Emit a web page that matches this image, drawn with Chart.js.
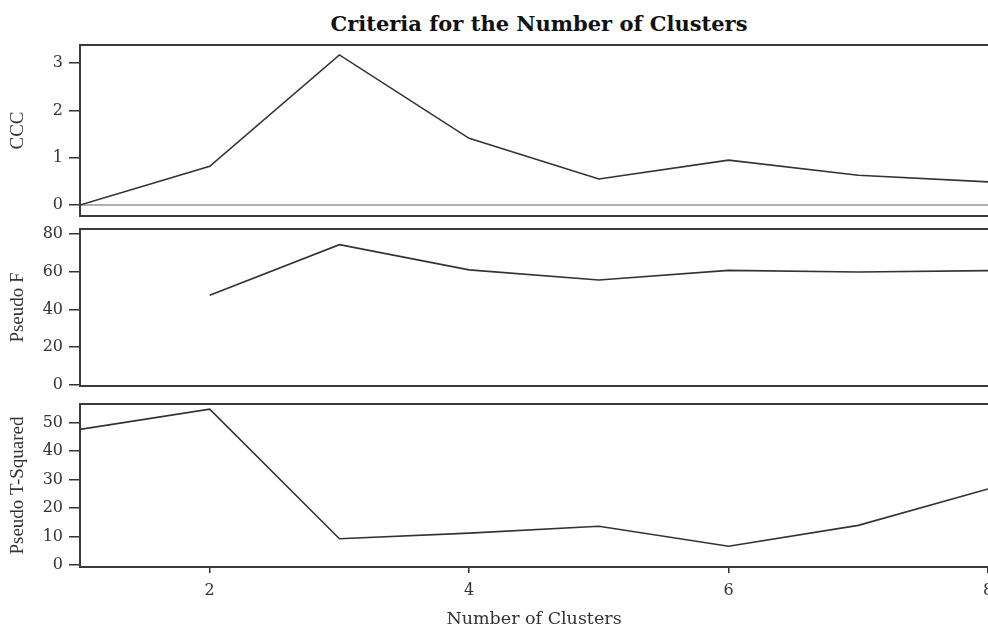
<!DOCTYPE html>
<html>
<head>
<meta charset="utf-8">
<script src="https://cdn.jsdelivr.net/npm/chart.js@4/dist/chart.umd.min.js"></script>
<style>
  body { margin: 0; background: #fff; overflow: hidden; width: 988px; height: 626px; position: relative; }
  .panel { position: absolute; left: 0; width: 988px; }
  #title { position: absolute; top: 10px; left: 80px; width: 918px; text-align: center;
           font: bold 21px "DejaVu Serif", serif; color: #111; line-height: 28px; }
</style>
</head>
<body>
<div id="title">Criteria for the Number of Clusters</div>
<div class="panel" style="top:35px;height:191px"><canvas id="ccc"></canvas></div>
<div class="panel" style="top:219px;height:177px"><canvas id="pf"></canvas></div>
<div class="panel" style="top:394px;height:236px"><canvas id="pt"></canvas></div>

<script>
// data
const clusters = [1, 2, 3, 4, 5, 6, 7, 8];
const cccValues = [0, 0.82, 3.17, 1.41, 0.55, 0.95, 0.63, 0.49];
const pseudoF = [null, 47.5, 74.2, 60.9, 55.5, 60.6, 59.8, 60.5];
const pseudoT2 = [47.6, 54.7, 9.2, 11.2, 13.6, 6.6, 13.9, 26.7];

const xTicks = [2, 4, 6, 8];
const cccTicks = [0, 1, 2, 3];
const fTicks = [0, 20, 40, 60, 80];
const tTicks = [0, 10, 20, 30, 40, 50];

Chart.defaults.font.family = '"DejaVu Serif", serif';
Chart.defaults.color = '#333';

// box lines round the plot area (top, left, bottom), right side runs off the page
const framePlugin = {
  id: 'frame',
  afterDraw(chart) {
    const { ctx, chartArea: a } = chart;
    ctx.save();
    ctx.strokeStyle = '#3a3a3a';
    ctx.lineWidth = 2;
    ctx.beginPath();
    ctx.moveTo(a.right + 2, a.top);
    ctx.lineTo(a.left, a.top);
    ctx.lineTo(a.left, a.bottom);
    ctx.lineTo(a.right + 2, a.bottom);
    ctx.stroke();
    ctx.restore();
  }
};

// grey reference line at zero for CCC
const zeroLine = {
  id: 'zeroLine',
  beforeDatasetsDraw(chart, args, opts) {
    if (!opts.show) return;
    const { ctx, chartArea: a, scales } = chart;
    const y = scales.y.getPixelForValue(0);
    ctx.save();
    ctx.strokeStyle = '#b0b0b0';
    ctx.lineWidth = 2;
    ctx.beginPath();
    ctx.moveTo(a.left, y);
    ctx.lineTo(a.right, y);
    ctx.stroke();
    ctx.restore();
  }
};

function makePanel(id, values, label, yMin, yMax, yTicks, showX, bottomPad, zero) {
  const xScale = {
    type: 'linear',
    min: 1,
    max: 8,
    display: showX,
    afterBuildTicks: (s) => { s.ticks = xTicks.map(v => ({ value: v })); },
    grid: { drawOnChartArea: false, drawTicks: true, tickLength: 6, color: '#333', lineWidth: 1.5 },
    border: { display: false },
    ticks: { font: { size: 16 }, color: '#333', padding: 8, maxRotation: 0 },
    title: { display: true, text: 'Number of Clusters', font: { size: 17.5 }, color: '#333',
             padding: { top: 0, bottom: 0 } }
  };
  if (showX) {
    xScale.afterFit = (s) => { s.height = 63; s.paddingLeft = 0; s.paddingRight = 0; };
  }
  return new Chart(document.getElementById(id), {
    type: 'line',
    data: {
      datasets: [{
        data: clusters.map((c, i) => ({ x: c, y: values[i] })),
        borderColor: '#333',
        borderWidth: 1.6,
        pointRadius: 0,
        tension: 0,
        spanGaps: false
      }]
    },
    options: {
      responsive: true,
      maintainAspectRatio: false,
      animation: false,
      layout: { padding: { top: 10, bottom: bottomPad, left: 0, right: 0 } },
      plugins: {
        legend: { display: false },
        tooltip: { enabled: false },
        zeroLine: { show: zero }
      },
      scales: {
        x: xScale,
        y: {
          min: yMin,
          max: yMax,
          afterBuildTicks: (s) => { s.ticks = yTicks.map(v => ({ value: v })); },
          afterFit: (s) => { s.width = 80; s.paddingTop = 0; s.paddingBottom = 0; },
          grid: { drawOnChartArea: false, drawTicks: true, tickLength: 11, color: '#333', lineWidth: 1.5 },
          border: { display: false },
          ticks: { font: { size: 16 }, color: '#333', padding: 6 },
          title: { display: true, text: label, font: { family: '"Liberation Serif", serif', size: 19 },
                   color: '#333', padding: { top: 7, bottom: 0 } }
        }
      }
    },
    plugins: [framePlugin, zeroLine]
  });
}

makePanel('ccc', cccValues, 'CCC', -0.23, 3.38, cccTicks, false, 10, true);
makePanel('pf', pseudoF, 'Pseudo F', -0.5, 82.5, fTicks, false, 10, false);
makePanel('pt', pseudoT2, 'Pseudo T-Squared', -0.7, 56.5, tTicks, true, 0, false);
</script>
</body>
</html>
